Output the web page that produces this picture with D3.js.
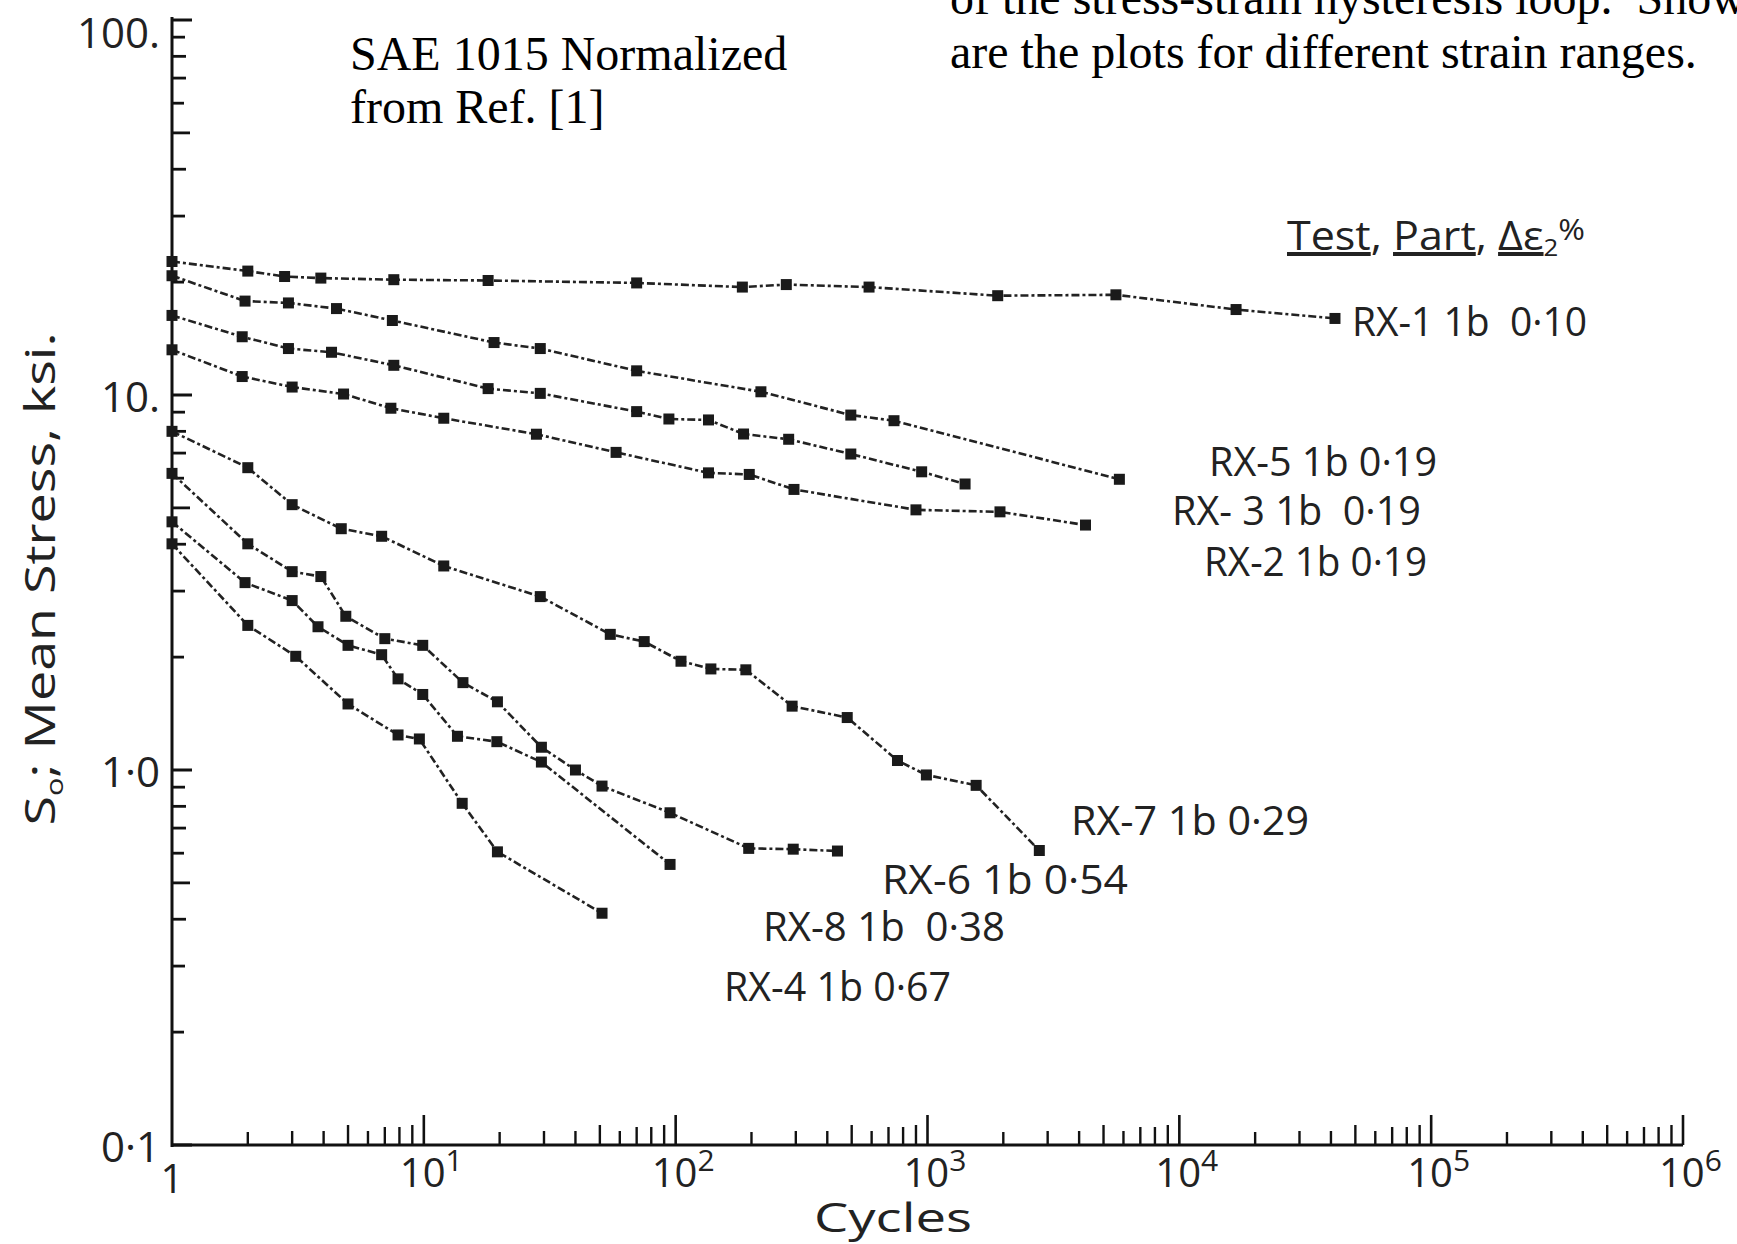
<!DOCTYPE html>
<html>
<head>
<meta charset="utf-8">
<script src="https://cdn.jsdelivr.net/npm/d3@7"></script>
<style>
  html, body { margin: 0; padding: 0; background: #fff; }
  svg { display: block; }
  .lettering { font-family: "Open Sans", "DejaVu Sans", sans-serif; font-weight: 400; fill: #222; }
  .serif { font-family: "Liberation Serif", "Times New Roman", serif; fill: #000; }
</style>
</head>
<body>
<svg id="chart" width="1737" height="1244"></svg>
<script>
// [cycles, mean stress ksi]
const rx1 = [[1, 22.7], [2.0, 21.4], [2.8, 20.7], [3.9, 20.5], [7.6, 20.3], [18, 20.2], [70, 19.9],
  [184, 19.4], [275, 19.7], [586, 19.4], [1900, 18.4], [5600, 18.5], [16800, 16.9], [41500, 16.0]];
const rx5 = [[1, 20.8], [1.95, 17.8], [2.9, 17.6], [4.5, 17.0], [7.5, 15.8], [19, 13.8], [29, 13.3],
  [70, 11.6], [218, 10.2], [496, 8.84], [736, 8.54], [5780, 5.96]];
const rx3 = [[1, 16.3], [1.9, 14.3], [2.9, 13.3], [4.3, 13.0], [7.6, 12.0], [18, 10.4], [29, 10.1],
  [70, 9.03], [94, 8.63], [135, 8.58], [186, 7.87], [281, 7.62], [496, 6.96], [948, 6.24], [1410, 5.79]];
const rx2 = [[1, 13.2], [1.9, 11.2], [3.0, 10.5], [4.8, 10.06], [7.4, 9.22], [12, 8.67], [28, 7.86],
  [58, 7.03], [135, 6.2], [196, 6.14], [295, 5.6], [900, 4.94], [1940, 4.88], [4240, 4.5]];
const rx7 = [[1, 8.0], [2.0, 6.4], [3.0, 5.1], [4.7, 4.4], [6.8, 4.2], [12, 3.5], [29, 2.9], [55, 2.3],
  [75, 2.2], [105, 1.95], [138, 1.86], [190, 1.85], [290, 1.48], [480, 1.38], [760, 1.06], [990, 0.97],
  [1560, 0.91], [2780, 0.61]];
const rx6 = [[1, 6.18], [2.0, 4.01], [3.0, 3.38], [3.9, 3.28], [4.9, 2.57], [7.0, 2.24], [9.9, 2.15],
  [14.3, 1.71], [19.6, 1.52], [29.3, 1.15], [40, 1.0], [51, 0.906], [95, 0.769], [195, 0.618],
  [293, 0.615], [439, 0.608]];
const rx8 = [[1, 4.59], [1.95, 3.16], [3.0, 2.83], [3.8, 2.41], [5.0, 2.15], [6.8, 2.03], [7.9, 1.75],
  [9.9, 1.59], [13.6, 1.23], [19.5, 1.19], [29.3, 1.05], [95, 0.56]];
const rx4 = [[1, 4.01], [2.0, 2.43], [3.1, 2.01], [5.0, 1.50], [7.9, 1.24], [9.6, 1.21], [14.2, 0.815],
  [19.6, 0.605], [51, 0.415]];

const seriesData = [rx1, rx5, rx3, rx2, rx7, rx6, rx8, rx4];
const seriesNames = ["RX-1 1b  0·10", "RX-5 1b 0·19", "RX- 3 1b  0·19", "RX-2 1b 0·19",
  "RX-7 1b 0·29", "RX-6 1b 0·54", "RX-8 1b  0·38", "RX-4 1b 0·67"];

const yTickValues = [0.1, 1, 10, 100];
const yTickLabels = ["0·1", "1·0", "10.", "100."];
const xTickValues = [1, 10, 100, 1e3, 1e4, 1e5, 1e6];
const xTickExponents = ["", "1", "2", "3", "4", "5", "6"];

const svg = d3.select("#chart");

const x = d3.scaleLog().domain([1, 1e6]).range([172, 1683]);
const y = d3.scaleLog().domain([0.1, 100]).range([1145, 20]);

// text above the plot
svg.append("text").attr("class", "serif").attr("font-size", 48)
  .attr("x", 350).attr("y", 70).text("SAE 1015 Normalized");
svg.append("text").attr("class", "serif").attr("font-size", 48)
  .attr("x", 350).attr("y", 123).text("from Ref. [1]");
svg.append("text").attr("class", "serif").attr("font-size", 48)
  .attr("x", 950).attr("y", 14).attr("xml:space", "preserve")
  .text("of the stress-strain hysteresis loop.  Shown");
svg.append("text").attr("class", "serif").attr("font-size", 48)
  .attr("x", 950).attr("y", 68).text("are the plots for different strain ranges.");

// axes lines
const axes = svg.append("g").attr("stroke", "#111").attr("fill", "none");
axes.append("line").attr("x1", x(1)).attr("x2", x(1))
  .attr("y1", y(100) - 3).attr("y2", y(0.1) + 2).attr("stroke-width", 3);
axes.append("line").attr("x1", x(1) - 1).attr("x2", x(1e6))
  .attr("y1", y(0.1)).attr("y2", y(0.1)).attr("stroke-width", 3);

// y ticks (pointing into the plot)
const yMinorLen = { 2: 12, 3: 13, 4: 14, 5: 18, 6: 12, 7: 14, 8: 14, 9: 13 };
[0.1, 1, 10].forEach(d => {
  for (let m = 2; m <= 9; m++) {
    axes.append("line").attr("x1", x(1)).attr("x2", x(1) + yMinorLen[m])
      .attr("y1", y(d * m)).attr("y2", y(d * m)).attr("stroke-width", 2.8);
  }
});
yTickValues.forEach(v => {
  axes.append("line").attr("x1", x(1)).attr("x2", x(1) + 20)
    .attr("y1", y(v)).attr("y2", y(v)).attr("stroke-width", 3);
});

// x ticks (pointing up)
const xMinorLen = { 2: 13, 3: 14, 4: 14, 5: 20, 6: 14, 7: 18, 8: 18, 9: 20 };
[1, 10, 100, 1e3, 1e4, 1e5].forEach(d => {
  for (let m = 2; m <= 9; m++) {
    axes.append("line").attr("x1", x(d * m)).attr("x2", x(d * m))
      .attr("y1", y(0.1)).attr("y2", y(0.1) - xMinorLen[m]).attr("stroke-width", 2.4);
  }
});
xTickValues.slice(1).forEach(v => {
  axes.append("line").attr("x1", x(v)).attr("x2", x(v))
    .attr("y1", y(0.1)).attr("y2", y(0.1) - 30).attr("stroke-width", 2.6);
});

// tick labels
yTickValues.forEach((v, i) => {
  svg.append("text").attr("class", "lettering").attr("font-size", 42)
    .attr("text-anchor", "end").attr("dominant-baseline", "central")
    .attr("x", 160).attr("y", Math.max(y(v), 31)).text(yTickLabels[i]);
});
xTickValues.forEach((v, i) => {
  const t = svg.append("text").attr("class", "lettering").attr("font-size", 40).attr("y", 1187);
  if (i === 0) {
    t.attr("x", x(v)).attr("text-anchor", "middle").attr("y", 1193).text("1");
  } else {
    t.attr("x", x(v) - 24).text("10");
    t.append("tspan").attr("font-size", 30).attr("dy", -16).text(xTickExponents[i]);
  }
});

// axis titles
svg.append("text").attr("class", "lettering").attr("font-size", 40)
  .attr("text-anchor", "middle").attr("x", 893).attr("y", 1232)
  .attr("textLength", 158).attr("lengthAdjust", "spacingAndGlyphs").text("Cycles");
const yTitle = svg.append("text").attr("class", "lettering").attr("font-size", 42)
  .attr("text-anchor", "middle").attr("transform", "translate(55,579) rotate(-90)")
  .attr("textLength", 493).attr("lengthAdjust", "spacingAndGlyphs");
yTitle.append("tspan").text("S");
yTitle.append("tspan").attr("font-size", 24).attr("dy", 8).text("o");
yTitle.append("tspan").attr("dy", -8).text("; Mean Stress, ksi.");

// series
const line = d3.line().x(d => x(d[0])).y(d => y(d[1]));
const plot = svg.append("g");
seriesData.forEach(s => {
  plot.append("path").datum(s).attr("d", line)
    .attr("fill", "none").attr("stroke", "#222").attr("stroke-width", 2.6)
    .attr("stroke-dasharray", "8 3 3 3");
  plot.selectAll(null).data(s).enter().append("rect")
    .attr("x", d => x(d[0]) - 5.5).attr("y", d => y(d[1]) - 5.5)
    .attr("width", 11).attr("height", 11).attr("fill", "#1a1a1a");
});

// series labels, placed as in the figure
const labelPlace = [
  [1352, 336, 235], [1209, 476, 228], [1172, 525, 249], [1204, 576, 223],
  [1071, 835, 238], [882, 894, 246], [763, 941, 242], [724, 1001, 227]
];
seriesNames.forEach((name, i) => {
  const [lx, ly, lw] = labelPlace[i];
  svg.append("text").attr("class", "lettering").attr("font-size", 40)
    .attr("x", lx).attr("y", ly).attr("xml:space", "preserve")
    .attr("textLength", lw).attr("lengthAdjust", "spacingAndGlyphs").text(name);
});

// legend header: Test, Part, Δε2 %
const head = svg.append("text").attr("class", "lettering").attr("font-size", 40)
  .attr("x", 1287).attr("y", 250).attr("xml:space", "preserve")
  .attr("textLength", 298).attr("lengthAdjust", "spacingAndGlyphs");
head.append("tspan").attr("text-decoration", "underline").text("Test");
head.append("tspan").text(", ");
head.append("tspan").attr("text-decoration", "underline").text("Part");
head.append("tspan").text(", ");
head.append("tspan").attr("text-decoration", "underline").text("Δε");
head.append("tspan").attr("font-size", 24).attr("dy", 6).text("2");
head.append("tspan").attr("font-size", 30).attr("dy", -16).text("%");
</script>
</body>
</html>
